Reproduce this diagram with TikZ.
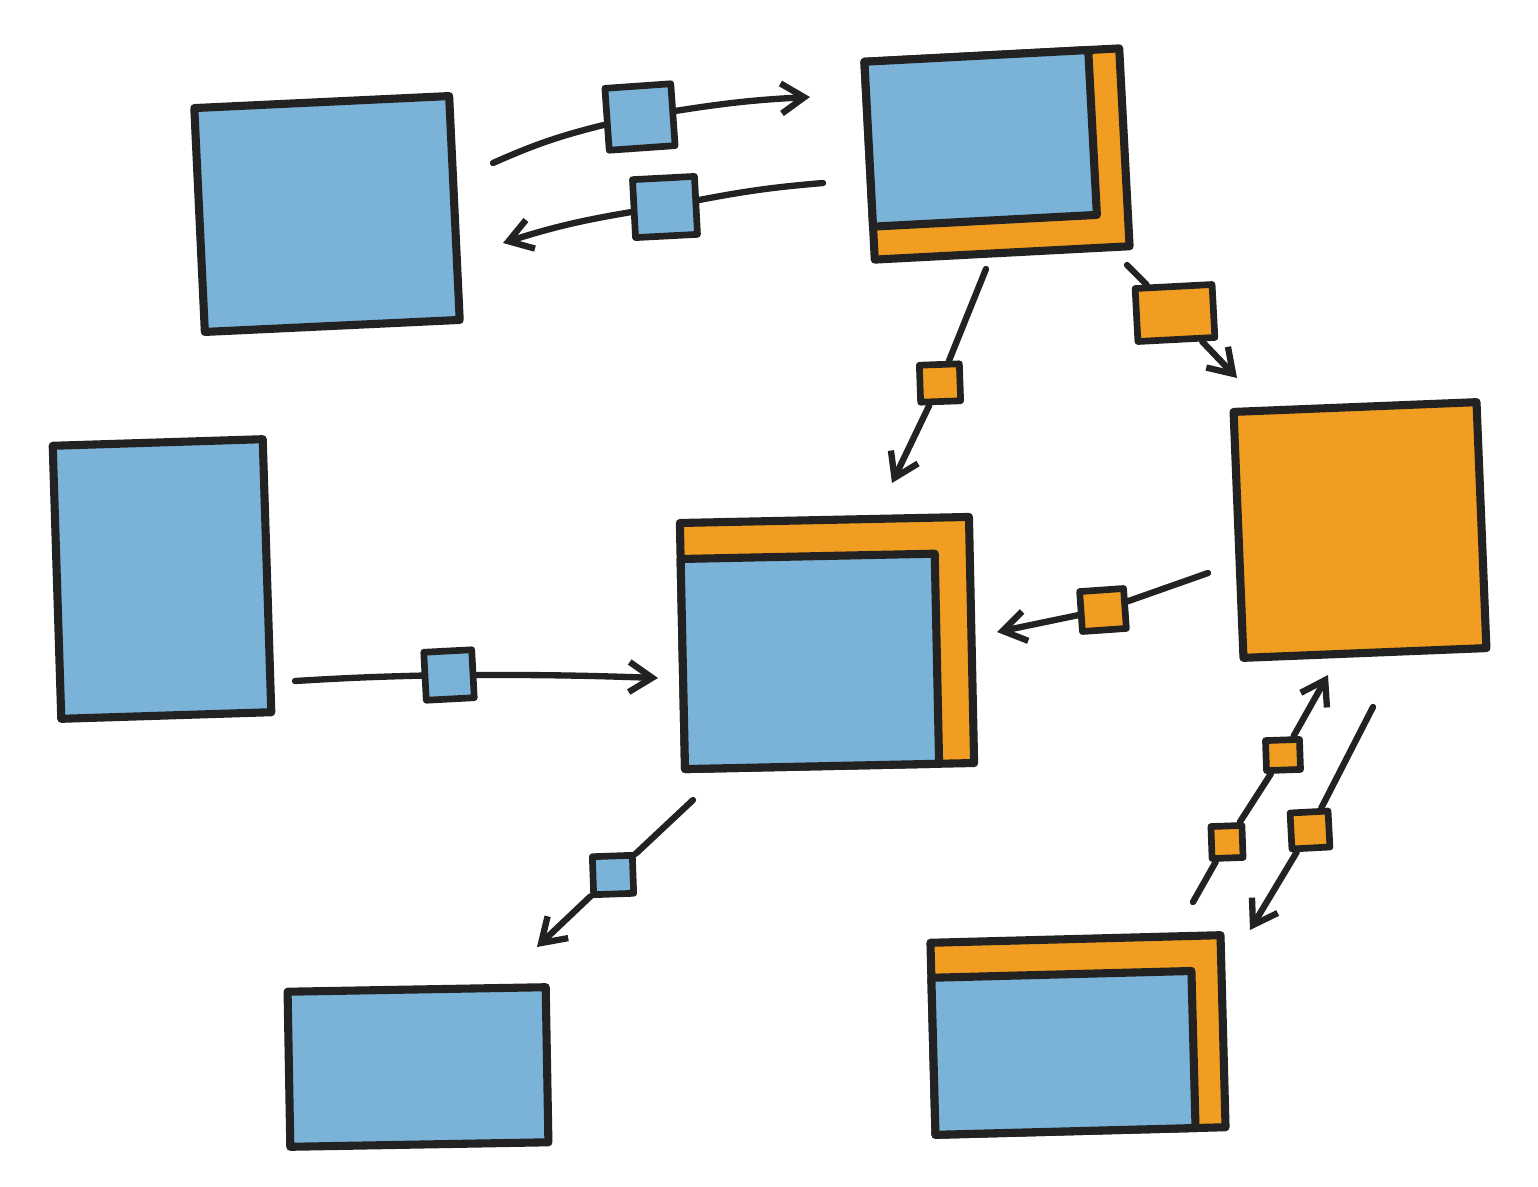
\documentclass[tikz,border=0pt]{standalone}
\usepackage{tikz}
\usetikzlibrary{arrows.meta}
\definecolor{skyblue}{HTML}{7AB2D8}
\definecolor{amber}{HTML}{F09D22}
\definecolor{ink}{HTML}{222222}

\begin{document}
\begin{tikzpicture}[
			x=0.01cm,
			y=-0.01cm,
			line cap=round,
			line join=round,
			box/.style={draw=ink, line width=2.3pt, inner sep=0pt, rectangle},
			bluebox/.style={box, fill=skyblue},
			orangebox/.style={box, fill=amber},
			tag/.style={draw=ink, line width=1.9pt, inner sep=0pt, rectangle},
			bluetag/.style={tag, fill=skyblue},
			orangetag/.style={tag, fill=amber},
			link/.style={draw=ink, line width=1.8pt},
			arrowlink/.style={link, -{Straight Barb[length=2.3mm,width=3mm]}}
			]
			\useasboundingbox (0,0) rectangle (1538,1187);
			
			% boxes
			\node[bluebox, minimum width=2.55cm, minimum height=2.24cm, rotate=2.7] (topleft) at (327,214) {};
			
			\node[orangebox, minimum width=2.55cm, minimum height=1.98cm, rotate=3] (topmid) at (997,154) {};
			\node[bluebox, minimum width=2.24cm, minimum height=1.65cm, rotate=3, anchor=north west] (topmid-in) at (topmid.north west) {};
			
			\node[bluebox, minimum width=2.10cm, minimum height=2.73cm, rotate=1.8] (midleft) at (162,579) {};
			
			\node[orangebox, minimum width=2.89cm, minimum height=2.46cm, rotate=1.2] (centre) at (827,643) {};
			\node[bluebox, minimum width=2.54cm, minimum height=2.10cm, rotate=1.2, anchor=south west] (centre-in) at (centre.south west) {};
			
			\node[orangebox, minimum width=2.43cm, minimum height=2.46cm, rotate=2.3] (midright) at (1360,530) {};
			
			\node[bluebox, minimum width=2.58cm, minimum height=1.55cm, rotate=1] (botleft) at (418,1067) {};
			
			\node[orangebox, minimum width=2.90cm, minimum height=1.92cm, rotate=1.5] (botright) at (1078,1035) {};
			\node[bluebox, minimum width=2.60cm, minimum height=1.57cm, rotate=1.5, anchor=south west] (botright-in) at (botright.south west) {};
			
			% tags on the links
			\node[bluetag, minimum width=0.66cm, minimum height=0.62cm, rotate=4] (tagA) at (640,117) {};
			\node[bluetag, minimum width=0.62cm, minimum height=0.58cm, rotate=3] (tagB) at (665,207) {};
			\node[orangetag, minimum width=0.40cm, minimum height=0.37cm, rotate=2] (tagC) at (940,383) {};
			\node[orangetag, minimum width=0.77cm, minimum height=0.53cm, rotate=3] (tagD) at (1175,313) {};
			\node[orangetag, minimum width=0.44cm, minimum height=0.40cm, rotate=4] (tagE) at (1103,610) {};
			\node[bluetag, minimum width=0.48cm, minimum height=0.48cm, rotate=3] (tagF) at (449,675) {};
			\node[bluetag, minimum width=0.40cm, minimum height=0.38cm, rotate=2] (tagG) at (613,875) {};
			\node[orangetag, minimum width=0.31cm, minimum height=0.32cm, rotate=2] (tagH1) at (1227,842) {};
			\node[orangetag, minimum width=0.34cm, minimum height=0.30cm, rotate=2] (tagH2) at (1283,755) {};
			\node[orangetag, minimum width=0.38cm, minimum height=0.36cm, rotate=3] (tagI) at (1310,830) {};
			
			% link ends
			\coordinate (a0) at (493,163);
			\coordinate (a1) at (810,97);
			\coordinate (b0) at (823,183);
			\coordinate (b1) at (503,243);
			\coordinate (c0) at (986,269);
			\coordinate (c1) at (892,483);
			\coordinate (d0) at (1127,265);
			\coordinate (d1) at (1237,378);
			\coordinate (e0) at (1208,573);
			\coordinate (e1) at (997,632);
			\coordinate (f0) at (295,681);
			\coordinate (f1) at (658,678);
			\coordinate (g0) at (693,800);
			\coordinate (g1) at (537,947);
			\coordinate (h0) at (1193,902);
			\coordinate (h1) at (1328,675);
			\coordinate (i0) at (1373,707);
			\coordinate (i1) at (1250,930);
			
			% links
			\draw[link] (a0) to[bend left=5] (tagA);
			\draw[arrowlink] (tagA) to[bend left=3] (a1);
			\draw[link] (b0) to[bend right=3] (tagB);
			\draw[arrowlink] (tagB) to[bend right=4] (b1);
			\draw[link] (c0) -- (tagC);
			\draw[arrowlink] (tagC) -- (c1);
			\draw[link] (d0) -- (tagD);
			\draw[arrowlink] (tagD) -- (d1);
			\draw[link] (e0) -- (tagE);
			\draw[arrowlink] (tagE) -- (e1);
			\draw[link] (f0) to[bend left=1] (tagF);
			\draw[arrowlink] (tagF) to[bend left=1] (f1);
			\draw[link] (g0) -- (tagG);
			\draw[arrowlink] (tagG) -- (g1);
			\draw[link] (h0) -- (tagH1);
			\draw[link] (tagH1) -- (tagH2);
			\draw[arrowlink] (tagH2) -- (h1);
			\draw[link] (i0) -- (tagI);
			\draw[arrowlink] (tagI) -- (i1);
		\end{tikzpicture}
\end{document}
